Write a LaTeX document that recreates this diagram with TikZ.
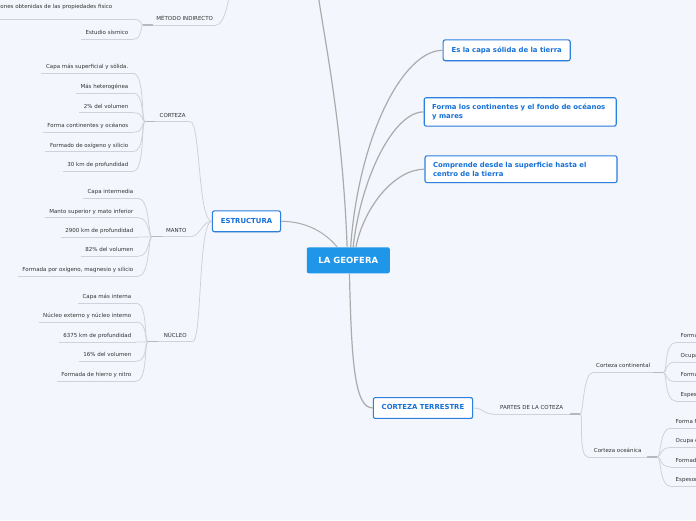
\documentclass[tikz,border=0pt]{standalone}
\usepackage{fontspec}
\setmainfont{DejaVu Sans}
\usetikzlibrary{positioning,calc,shadows}

\definecolor{bgcol}{HTML}{F3F6FD}
\definecolor{geoblue}{HTML}{1F96E8}
\definecolor{boxblue}{HTML}{2D7FE0}
\definecolor{boxtext}{HTML}{1570D8}
\definecolor{mainline}{HTML}{ABABAB}
\definecolor{leafline}{HTML}{CFD2DA}
\definecolor{stubcol}{HTML}{B5B8C0}
\definecolor{leaftext}{HTML}{333333}

\newcommand{\leaffont}{\fontsize{5.5}{6.6}\selectfont}
\newcommand{\boxfont}{\fontsize{6.9}{9}\selectfont\bfseries}

\begin{document}
\begin{tikzpicture}[
    x=1pt, y=-1pt,
    topic/.style={draw=boxblue, fill=white, line width=1.1pt, rounded corners=2pt, text=boxtext, font=\boxfont,
        inner xsep=8.4pt, inner ysep=7pt, text height=5.2pt, text depth=1.6pt,
        drop shadow={opacity=0.12, shadow xshift=0.5pt, shadow yshift=-0.8pt}},
    widetopic/.style={draw=boxblue, fill=white, line width=1.1pt, rounded corners=2pt, text=boxtext, font=\boxfont,
        inner xsep=8pt, inner ysep=6.2pt, text width=176pt, align=left,
        drop shadow={opacity=0.12, shadow xshift=0.5pt, shadow yshift=-0.8pt}},
    central/.style={fill=geoblue, rounded corners=2pt, text=white, font=\fontsize{8.5}{10}\selectfont\bfseries,
        minimum width=83pt, minimum height=26pt},
    leafL/.style={anchor=south east, font=\leaffont, text=leaftext, inner xsep=4.5pt, inner ysep=3.2pt,
        text height=4pt, text depth=1.3pt},
    leafR/.style={leafL, anchor=south west},
    sub/.style={anchor=south west, font=\leaffont, text=leaftext, inner xsep=1pt, inner ysep=3.2pt,
        text height=4pt, text depth=1.3pt},
    uline/.style={draw=leafline, line width=0.8pt},
    twig/.style={draw=leafline, line width=0.8pt},
    stub/.style={draw=stubcol, line width=1.4pt},
    branch/.style={draw=mainline, line width=1.2pt}
]

\fill[bgcol] (0,0) rectangle (696,520);
\useasboundingbox (0,0) rectangle (696,520);
\clip (0,0) rectangle (696,520);

% ---------- Main topics ----------
\node[central] (geo) at (348.3,260.3) {LA GEOFERA};
\node[topic] (solida) at (506.7,50.3) {Es la capa sólida de la tierra};
\node[widetopic] (fondo) at (520.2,111.9) {Forma los continentes y el fondo de océanos\\y mares};
\node[widetopic] (centro) at (521,169.2) {Comprende desde la superficie hasta el\\centro de la tierra};
\node[topic] (estructura) at (246.5,221.3) {ESTRUCTURA};
\node[topic] (ctierra) at (423,408) {CORTEZA TERRESTRE};
\coordinate (upper) at (316,-20);

\draw[branch] (geo.80) .. controls +(8,-110) and +(-40,0) .. (solida.west);
\draw[branch] (geo.70) .. controls +(8,-70) and +(-30,0) .. (fondo.west);
\draw[branch] (geo.60) .. controls +(8,-40) and +(-30,0) .. (centro.west);
\draw[branch] (geo.95) .. controls +(-5,-130) and +(8,60) .. (upper);
\draw[branch, line width=1pt] (estructura.east) .. controls +(30,0) and +(-8,-10) .. (geo.130);
\draw[branch] (geo.-85) .. controls +(2,90) and +(-18,0) .. (ctierra.west);

% ---------- Left side subtopics ----------
\node[sub, minimum width=35pt] (corteza) at (155,121.7) {CORTEZA};
\node[sub, minimum width=28pt] (manto) at (162,236.7) {MANTO};
\node[sub, minimum width=34pt] (nucleo) at (158,341.7) {NÚCLEO};
\node[sub, minimum width=63pt] (metodo) at (153,25) {MÉTODO INDIRECTO};
\coordinate (metodoUp) at (231,-20);

\foreach \s in {corteza,manto,nucleo,metodo}{
  \coordinate (\s J) at ($(\s.south west)+(-10,0)$);
  \draw[uline] (\s.south west) -- (\s.south east);
  \draw[stub] (\s J) -- (\s.south west);
}

\draw[twig] (corteza.south east) .. controls +(10,0) and +(-14,0) .. (estructura.west);
\draw[twig] (manto.south east) .. controls +(10,0) and +(-10,0) .. (estructura.west);
\draw[twig] (nucleo.south east) .. controls +(10,0) and +(-14,0) .. (estructura.west);
\draw[twig] (metodo.south east) .. controls +(8,0) and +(-1,18) .. (metodoUp);

% leaves of CORTEZA
\foreach \txt/\yy [count=\i] in {Capa más superficial y sólida./73.3, Más heterogénea/93, 2\% del volumen/112.7,
    Forma continentes y océanos/132.3, Formado de oxígeno y silicio/151.7, 30 km de profundidad/171.3}{
  \node[leafL] (cort\i) at (133,\yy) {\txt};
  \draw[uline] (cort\i.south west) -- (cort\i.south east);
  \draw[twig] (cortezaJ) .. controls +(-4,0) and +(12,0) .. (cort\i.south east);
}

% leaves of MANTO
\foreach \txt/\yy [count=\i] in {Capa intermedia/198.3, Manto superior y mato inferior/217.7, 2900 km de profundidad/237,
    82\% del volumen/256.3, {Formada por oxígeno, magnesio y silicio}/276.3}{
  \node[leafL] (mant\i) at (138,\yy) {\txt};
  \draw[uline] (mant\i.south west) -- (mant\i.south east);
  \draw[twig] (mantoJ) .. controls +(-4,0) and +(12,0) .. (mant\i.south east);
}

% leaves of NUCLEO
\foreach \txt/\yy [count=\i] in {Capa más interna/303, Núcleo externo y núcleo interno/322, 6375 km de profundidad/342,
    16\% del volumen/361.3, Formada de hierro y nitro/381.3}{
  \node[leafL] (nucl\i) at (136,\yy) {\txt};
  \draw[uline] (nucl\i.south west) -- (nucl\i.south east);
  \draw[twig] (nucleoJ) .. controls +(-4,0) and +(12,0) .. (nucl\i.south east);
}

% leaves of METODO INDIRECTO
\node[leafL, text depth=7pt] (met1) at (133,19.3) {Deducciones obtenidas de las propiedades fisico\rule{16pt}{0pt}};
\node[leafL] (met2) at (133,39.3) {Estudio sísmico};
\foreach \m in {met1,met2}{
  \draw[uline] (\m.south west) -- (\m.south east);
  \draw[twig] (metodoJ) .. controls +(-3,0) and +(10,0) .. (\m.south east);
}

% ---------- Right side: CORTEZA TERRESTRE ----------
\node[sub, minimum width=77pt] (partes) at (493,414) {PARTES DE LA COTEZA};
\node[sub, minimum width=60pt] (ccont) at (593,372.5) {Corteza continental};
\node[sub, minimum width=59pt] (cocea) at (588,457) {Corteza oceánica};

\foreach \s in {partes,ccont,cocea}{
  \coordinate (\s J) at ($(\s.south east)+(10,0)$);
  \draw[uline] (\s.south west) -- (\s.south east);
  \draw[stub] (\s.south east) -- (\s J);
}

\draw[twig] (ctierra.east) .. controls +(10,0) and +(-10,0) .. (partes.south west);
\draw[twig] (partesJ) .. controls +(3,0) and +(-10,0) .. (ccont.south west);
\draw[twig] (partesJ) .. controls +(3,0) and +(-10,0) .. (cocea.south west);

\foreach \txt/\yy [count=\i] in {Forma los continentes/342.5, Ocupa el 30\% de la superficie/362,
    Formada por granito/381.5, Espesor de 30 a 70 km/401}{
  \node[leafR] (cc\i) at (676,\yy) {\txt};
  \draw[uline] (cc\i.south west) -- (cc\i.south east);
  \draw[twig] (ccontJ) .. controls +(4,0) and +(-12,0) .. (cc\i.south west);
}

\foreach \txt/\yy [count=\i] in {Forma fondos oceánicos/428, Ocupa el 70\% de la superficie/447.5,
    Formada por basalto/467, Espesor de 10 km/486.5}{
  \node[leafR] (co\i) at (671,\yy) {\txt};
  \draw[uline] (co\i.south west) -- (co\i.south east);
  \draw[twig] (coceaJ) .. controls +(4,0) and +(-12,0) .. (co\i.south west);
}

\end{tikzpicture}
\end{document}
